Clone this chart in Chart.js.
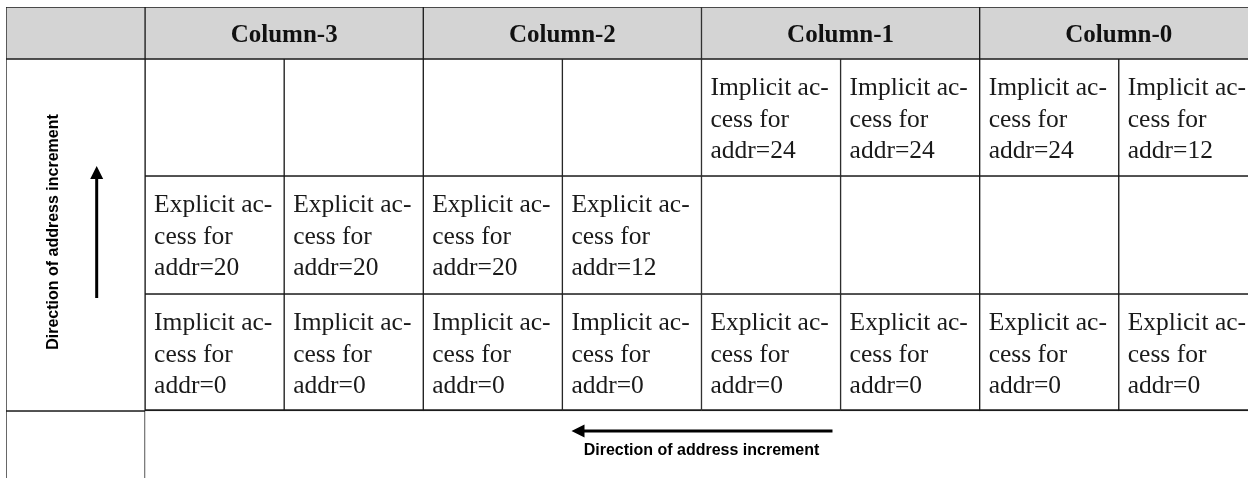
<!DOCTYPE html>
<html lang="en">
<head>
<meta charset="UTF-8">
<title>Address increment table</title>
<style>
  html, body { margin: 0; padding: 0; background: #fff; }
  .wrap { width: 1248px; height: 478px; position: relative; }
</style>
</head>
<body>
<div class="wrap"><canvas id="grid"></canvas></div>
<script src="https://cdn.jsdelivr.net/npm/chart.js"></script>
<script>
const groups = ['Column-3', 'Column-2', 'Column-1', 'Column-0'];
const topKind = ['', '', '', '', 'Implicit', 'Implicit', 'Implicit', 'Implicit'];
const topAddr = [null, null, null, null, 24, 24, 24, 12];
const midKind = ['Explicit', 'Explicit', 'Explicit', 'Explicit', '', '', '', ''];
const midAddr = [20, 20, 20, 12, null, null, null, null];
const lowKind = ['Implicit', 'Implicit', 'Implicit', 'Implicit', 'Explicit', 'Explicit', 'Explicit', 'Explicit'];
const lowAddr = [0, 0, 0, 0, 0, 0, 0, 0];
const directionLabel = 'Direction of address increment';

// layout: row edges on the y scale (header, 3 rows, open footer)
const rowEdges = [0, 52, 169, 287, 404, 520];
const rows = [[topKind, topAddr], [midKind, midAddr], [lowKind, lowAddr]];

const line = '#1c1c1c';
const headFill = '#d4d4d4';
const serif = '"Liberation Serif", "DejaVu Serif", serif';
const sans = '"Liberation Sans", Arial, sans-serif';

function cellSet(points, fill, axis, border) {
    return {
        xAxisID: axis || 'x',
        data: points,
        backgroundColor: fill,
        borderColor: line,
        borderWidth: border || 1,
        borderSkipped: false,
        grouped: false,
        categoryPercentage: 1,
        barPercentage: 1,
        clip: 0
    };
}

const datasets = [
    cellSet(groups.map((g, i) => ({ x: i + 0.5, y: [rowEdges[0], rowEdges[1]] })), headFill, 'xg'),
    cellSet([{ x: 0.5, y: [rowEdges[0], rowEdges[1]] }], headFill),
    cellSet([{ x: 0.5, y: [rowEdges[1], rowEdges[4]] }], '#fff'),
    cellSet([{ x: 0.5, y: [rowEdges[4], rowEdges[5]] }], '#fff')
];
rows.forEach((r, ri) => {
    const last = ri === rows.length - 1;
    datasets.push(cellSet(
        r[0].map((k, i) => ({ x: i + 1.5, y: [rowEdges[ri + 1], rowEdges[ri + 2]] })),
        '#fff', 'x', last ? { top: 1, left: 1, right: 1, bottom: 2 } : 1
    ));
});

function arrow(ctx, x1, y1, x2, y2) {
    // from (x1,y1) to the tip at (x2,y2)
    const a = Math.atan2(y2 - y1, x2 - x1);
    ctx.save();
    ctx.strokeStyle = '#000';
    ctx.fillStyle = '#000';
    ctx.lineWidth = 3;
    ctx.beginPath();
    ctx.moveTo(x1, y1);
    ctx.lineTo(x2 - 10 * Math.cos(a), y2 - 10 * Math.sin(a));
    ctx.stroke();
    ctx.translate(x2, y2);
    ctx.rotate(a);
    ctx.beginPath();
    ctx.moveTo(0, 0);
    ctx.lineTo(-13, -6.5);
    ctx.lineTo(-13, 6.5);
    ctx.closePath();
    ctx.fill();
    ctx.restore();
}

const tableText = {
    id: 'tableText',
    afterDatasetsDraw(chart) {
        const ctx = chart.ctx;
        const x = chart.scales.x, xg = chart.scales.xg, y = chart.scales.y;
        ctx.save();

        // header labels
        ctx.fillStyle = '#111';
        ctx.font = 'bold 25px ' + serif;
        ctx.textAlign = 'center';
        ctx.textBaseline = 'alphabetic';
        groups.forEach((g, i) => {
            ctx.fillText(g, xg.getPixelForValue(i + 0.5), y.getPixelForValue(rowEdges[1]) - 17);
        });

        // cell text
        ctx.font = '25.5px ' + serif;
        ctx.textAlign = 'left';
        ctx.fillStyle = '#1a1a1a';
        rows.forEach((r, ri) => {
            const top = y.getPixelForValue(rowEdges[ri + 1]);
            r[0].forEach((kind, i) => {
                if (!kind) return;
                const left = x.getPixelForValue(i + 1) + 9;
                const lines = [kind + ' ac-', 'cess for', 'addr=' + r[1][i]];
                lines.forEach((t, li) => ctx.fillText(t, left, top + 36 + li * 31.5));
            });
        });

        // vertical direction marker in the side cell
        const midY = (y.getPixelForValue(rowEdges[1]) + y.getPixelForValue(rowEdges[4])) / 2 - 3;
        ctx.font = 'bold 16px ' + sans;
        ctx.fillStyle = '#000';
        ctx.textAlign = 'center';
        ctx.textBaseline = 'middle';
        ctx.save();
        ctx.translate(x.getPixelForValue(0.34), midY);
        ctx.rotate(-Math.PI / 2);
        ctx.fillText(directionLabel, 0, 0);
        ctx.restore();
        const ax = x.getPixelForValue(0.652);
        arrow(ctx, ax, midY + 66, ax, midY - 66);

        // horizontal direction marker in the footer
        const cx = x.getPixelForValue(5);
        const fy = y.getPixelForValue(rowEdges[4]);
        arrow(ctx, cx + 131, fy + 20, cx - 130, fy + 20);
        ctx.fillText(directionLabel, cx, fy + 40);

        ctx.restore();
    }
};

const noTicks = s => { s.ticks = []; };

new Chart(document.getElementById('grid'), {
    type: 'bar',
    data: { datasets: datasets },
    options: {
        responsive: true,
        maintainAspectRatio: false,
        animation: false,
        layout: { padding: { left: 6, top: 7, right: 0, bottom: 0 } },
        plugins: { legend: { display: false }, tooltip: { enabled: false } },
        scales: {
            x: { type: 'linear', min: 0, max: 8.929, display: false, afterBuildTicks: noTicks },
            xg: { type: 'linear', min: -0.5, max: 3.9645, display: false, afterBuildTicks: noTicks },
            y: { type: 'linear', reverse: true, min: 0, max: 471, display: false }
        }
    },
    plugins: [tableText]
});
</script>
</body>
</html>
